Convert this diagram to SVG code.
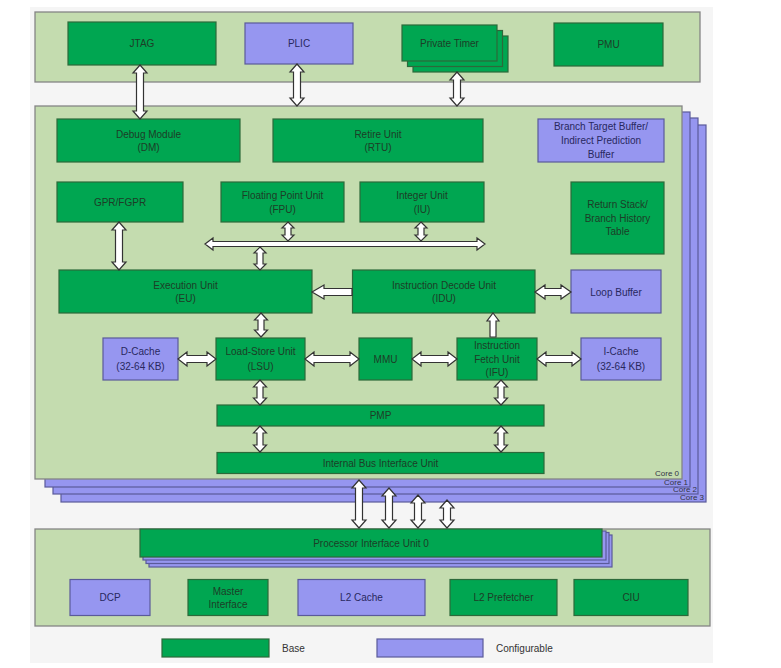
<svg xmlns="http://www.w3.org/2000/svg" width="781" height="668" viewBox="0 0 781 668">
<style>
.panel{fill:#c4dcaf;stroke:#858585;stroke-width:1.3}
.g{fill:#00a651;stroke:#2c6a3a;stroke-width:1.2}
.p{fill:#9696f0;stroke:#5a5a9a;stroke-width:1.2}
.arr{fill:#ffffff;stroke:#333333;stroke-width:1.2;stroke-linejoin:miter}
text{font-family:"Liberation Sans",Arial,sans-serif;font-size:10px;text-anchor:middle;fill:#1d3d27}
.tp{fill:#28285e}
.core{font-size:8px;text-anchor:end;fill:#333344}
.leg{text-anchor:start;fill:#333333}
</style>
<rect x="0" y="0" width="781" height="668" fill="#ffffff"/>
<rect x="30" y="7" width="683" height="656" fill="#f5f5f5"/>

<!-- top panel -->
<g id="top-panel">
<rect class="panel" x="35" y="12" width="665" height="70"/>
</g>
<g id="jtag"><rect class="g" x="68" y="22" width="148" height="43"/><text x="142" y="47">JTAG</text></g>
<g id="plic"><rect class="p" x="245" y="23" width="108" height="41"/><text class="tp" x="299" y="47">PLIC</text></g>
<g id="private-timer">
<rect class="g" x="413" y="36" width="95" height="36"/>
<rect class="g" x="407.5" y="30.5" width="95" height="36"/>
<rect class="g" x="402" y="25" width="95" height="36"/>
<text x="449.5" y="46.5">Private  Timer</text>
</g>
<g id="pmu"><rect class="g" x="554" y="23" width="109" height="43"/><text x="608.5" y="48">PMU</text></g>

<!-- core stack -->
<g id="core3"><rect class="p" x="61" y="125" width="645" height="377"/><text class="core" x="704" y="500">Core 3</text></g>
<g id="core2"><rect class="p" x="53" y="118" width="645" height="376"/><text class="core" x="697" y="492">Core 2</text></g>
<g id="core1"><rect class="p" x="45" y="112" width="645" height="375"/><text class="core" x="688" y="484.5">Core 1</text></g>
<g id="core0"><rect class="panel" x="35" y="106" width="647" height="373"/><text class="core" x="679" y="476">Core 0</text></g>

<g id="dm"><rect class="g" x="57" y="119" width="183" height="43"/><text x="148.5" y="138">Debug Module</text><text x="148.5" y="150.5">(DM)</text></g>
<g id="rtu"><rect class="g" x="273" y="119" width="210" height="43"/><text x="378" y="138">Retire Unit</text><text x="378" y="150.5">(RTU)</text></g>
<g id="btb"><rect class="p" x="538" y="119" width="126" height="43"/><text class="tp" x="601" y="129.5">Branch Target Buffer/</text><text class="tp" x="601" y="143.5">Indirect Prediction</text><text class="tp" x="601" y="157.5">Buffer</text></g>
<g id="gpr"><rect class="g" x="57" y="182" width="126" height="40"/><text x="120" y="205.5">GPR/FGPR</text></g>
<g id="fpu"><rect class="g" x="221" y="182" width="123" height="40"/><text x="282.5" y="198.5">Floating Point Unit</text><text x="282.5" y="213">(FPU)</text></g>
<g id="iu"><rect class="g" x="360" y="182" width="124" height="40"/><text x="422" y="198.5">Integer Unit</text><text x="422" y="213">(IU)</text></g>
<g id="rs"><rect class="g" x="571" y="182" width="93" height="72"/><text x="617.5" y="208">Return Stack/</text><text x="617.5" y="221.5">Branch History</text><text x="617.5" y="235">Table</text></g>
<g id="eu"><rect class="g" x="59" y="270" width="253" height="43"/><text x="185.5" y="288.5">Execution Unit</text><text x="185.5" y="302">(EU)</text></g>
<g id="idu"><rect class="g" x="352.5" y="270" width="182.5" height="43"/><text x="444" y="288.5">Instruction Decode Unit</text><text x="444" y="302">(IDU)</text></g>
<g id="loop"><rect class="p" x="571" y="270" width="90" height="43"/><text class="tp" x="616" y="295.5">Loop Buffer</text></g>
<g id="dcache"><rect class="p" x="103" y="338" width="75" height="42"/><text class="tp" x="140.5" y="355">D-Cache</text><text class="tp" x="140.5" y="370">(32-64 KB)</text></g>
<g id="lsu"><rect class="g" x="216" y="338" width="89" height="42"/><text x="260.5" y="355">Load-Store Unit</text><text x="260.5" y="370">(LSU)</text></g>
<g id="mmu"><rect class="g" x="359" y="338" width="53" height="42"/><text x="385.5" y="362.5">MMU</text></g>
<g id="ifu"><rect class="g" x="457" y="338" width="80" height="42"/><text x="497" y="348.5">Instruction</text><text x="497" y="362.5">Fetch Unit</text><text x="497" y="376">(IFU)</text></g>
<g id="icache"><rect class="p" x="581" y="338" width="80" height="42"/><text class="tp" x="621" y="355">I-Cache</text><text class="tp" x="621" y="370">(32-64 KB)</text></g>
<g id="pmp"><rect class="g" x="217" y="405" width="327" height="21"/><text x="380.5" y="418.5">PMP</text></g>
<g id="biu"><rect class="g" x="217" y="452.5" width="327" height="21"/><text x="380.5" y="466.5">Internal Bus Interface Unit</text></g>

<!-- bottom panel -->
<g id="bottom-panel"><rect class="panel" x="35" y="529" width="675" height="97"/></g>
<g id="piu">
<rect class="p" x="149" y="535" width="463" height="32"/>
<rect class="p" x="146" y="532.5" width="463" height="31"/>
<rect class="p" x="143" y="531" width="463" height="29"/>
<rect class="g" x="140" y="529" width="462" height="28"/>
<text x="371" y="547">Processor Interface Unit 0</text>
</g>
<g id="dcp"><rect class="p" x="70" y="579.5" width="80" height="36"/><text class="tp" x="110" y="601">DCP</text></g>
<g id="master"><rect class="g" x="188" y="579.5" width="80" height="36"/><text x="228" y="594.5">Master</text><text x="228" y="608">Interface</text></g>
<g id="l2cache"><rect class="p" x="298" y="579.5" width="127" height="36"/><text class="tp" x="361.5" y="601">L2 Cache</text></g>
<g id="l2pf"><rect class="g" x="450" y="579.5" width="107" height="36"/><text x="503.5" y="601">L2 Prefetcher</text></g>
<g id="ciu"><rect class="g" x="574" y="579.5" width="114" height="36"/><text x="631" y="601">CIU</text></g>

<!-- legend -->
<g id="legend-base"><rect class="g" x="162" y="639" width="107" height="18"/><text class="leg" x="282" y="651.5">Base</text></g>
<g id="legend-conf"><rect class="p" x="377" y="639" width="106" height="18"/><text class="leg" x="496" y="651.5">Configurable</text></g>

<!-- connectors -->
<g id="connectors">
<path class="arr" d="M140,65 L147,73 L143.5,73 L143.5,111 L147,111 L140,119 L133,111 L136.5,111 L136.5,73 L133,73 Z"/>
<path class="arr" d="M297,64 L304,72 L300.5,72 L300.5,98 L304,98 L297,106 L290,98 L293.5,98 L293.5,72 L290,72 Z"/>
<path class="arr" d="M457,72 L464,80 L460.5,80 L460.5,98 L464,98 L457,106 L450,98 L453.5,98 L453.5,80 L450,80 Z"/>
<path class="arr" d="M119,222 L126,230 L122.5,230 L122.5,262 L126,262 L119,270 L112,262 L115.5,262 L115.5,230 L112,230 Z"/>
<path class="arr" d="M288,222 L294,228 L291,228 L291,235 L294,235 L288,241 L282,235 L285,235 L285,228 L282,228 Z"/>
<path class="arr" d="M421,222 L427,228 L424,228 L424,235 L427,235 L421,241 L415,235 L418,235 L418,228 L415,228 Z"/>
<path class="arr" d="M205,244 L213,238 L213,241.5 L477,241.5 L477,238 L485,244 L477,250 L477,246.5 L213,246.5 L213,250 Z"/>
<path class="arr" d="M260,247 L266,253 L263,253 L263,264 L266,264 L260,270 L254,264 L257,264 L257,253 L254,253 Z"/>
<path class="arr" d="M312,292 L324,285 L324,288.5 L352,288.5 L352,295.5 L324,295.5 L324,299 Z"/>
<path class="arr" d="M535,292 L545,285 L545,288.5 L561,288.5 L561,285 L571,292 L561,299 L561,295.5 L545,295.5 L545,299 Z"/>
<path class="arr" d="M493,313 L499,321 L496,321 L496,337 L490,337 L490,321 L487,321 Z"/>
<path class="arr" d="M261,313 L267.5,320 L264,320 L264,330 L267.5,330 L261,337 L254.5,330 L258,330 L258,320 L254.5,320 Z"/>
<path class="arr" d="M178,359 L187,352 L187,355.5 L207,355.5 L207,352 L216,359 L207,366 L207,362.5 L187,362.5 L187,366 Z"/>
<path class="arr" d="M305,359 L314,352 L314,355.5 L350,355.5 L350,352 L359,359 L350,366 L350,362.5 L314,362.5 L314,366 Z"/>
<path class="arr" d="M412,359 L421,352 L421,355.5 L448,355.5 L448,352 L457,359 L448,366 L448,362.5 L421,362.5 L421,366 Z"/>
<path class="arr" d="M537,359 L546,352 L546,355.5 L572,355.5 L572,352 L581,359 L572,366 L572,362.5 L546,362.5 L546,366 Z"/>
<path class="arr" d="M260,380 L266.5,387 L263,387 L263,398 L266.5,398 L260,405 L253.5,398 L257,398 L257,387 L253.5,387 Z"/>
<path class="arr" d="M501,380 L507.5,387 L504,387 L504,398 L507.5,398 L501,405 L494.5,398 L498,398 L498,387 L494.5,387 Z"/>
<path class="arr" d="M260,426 L266.5,433 L263,433 L263,445 L266.5,445 L260,452 L253.5,445 L257,445 L257,433 L253.5,433 Z"/>
<path class="arr" d="M501,426 L507.5,433 L504,433 L504,445 L507.5,445 L501,452 L494.5,445 L498,445 L498,433 L494.5,433 Z"/>
<path class="arr" d="M359,480 L366,488 L362.5,488 L362.5,520 L366,520 L359,528 L352,520 L355.5,520 L355.5,488 L352,488 Z"/>
<path class="arr" d="M389,488 L396,496 L392.5,496 L392.5,520 L396,520 L389,528 L382,520 L385.5,520 L385.5,496 L382,496 Z"/>
<path class="arr" d="M418,495 L425,503 L421.5,503 L421.5,520 L425,520 L418,528 L411,520 L414.5,520 L414.5,503 L411,503 Z"/>
<path class="arr" d="M447,500 L454,508 L450.5,508 L450.5,520 L454,520 L447,528 L440,520 L443.5,520 L443.5,508 L440,508 Z"/>
</g>
</svg>
